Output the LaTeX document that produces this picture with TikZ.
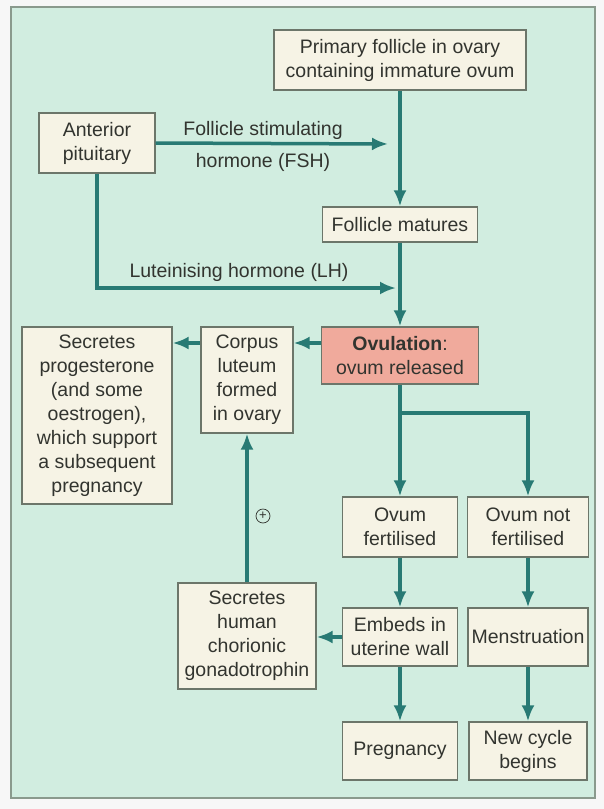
\documentclass[tikz,border=0pt]{standalone}
\usepackage{fontspec}
\setmainfont{Liberation Sans}
\usetikzlibrary{arrows.meta}

\definecolor{munt}{RGB}{209,237,224}
\definecolor{room}{RGB}{246,243,229}
\definecolor{rand}{RGB}{108,118,106}
\definecolor{zeegroen}{RGB}{40,122,116}
\definecolor{zalm}{RGB}{240,170,156}
\definecolor{inkt}{RGB}{50,52,47}

\begin{document}
\begin{tikzpicture}[x=1pt,y=-1pt,>={Latex[length=16pt,width=13pt]}]

% --- Stijlen ---
\tikzset{
    vak/.style={
        draw=rand,
        fill=room,
        line width=1.3pt,
        text=inkt,
        font=\fontsize{19.5}{24}\selectfont,
        align=center,
        inner sep=2pt
    },
    pijl/.style={
        ->,
        draw=zeegroen,
        line width=3.5pt
    },
    bijschrift/.style={
        text=inkt,
        font=\fontsize{19.5}{24}\selectfont,
        inner sep=0pt
    }
}

% --- Achtergrond en kader ---
\fill[white!94!gray] (0,0) rectangle (604,809);
\draw[fill=munt, draw=rand!70!munt, line width=2pt] (11,7) rectangle (595,798);

% --- Vakken ---

% Bovenste rij
\node[vak, minimum width=252pt, minimum height=60pt] (prim) at (400,60)
    {Primary follicle in ovary\\containing immature ovum};
\node[vak, minimum width=116pt, minimum height=60pt] (ant) at (97,143)
    {Anterior\\pituitary};
\node[vak, minimum width=155pt, minimum height=35pt] (mat) at (400,224.5)
    {Follicle matures};

% Ovulatie en corpus luteum
\node[vak, fill=zalm, minimum width=157pt, minimum height=57pt] (ovul) at (400,355.5)
    {\textbf{Ovulation}:\\ovum released};
\node[vak, minimum width=92pt, minimum height=106pt] (corp) at (247,380)
    {Corpus\\luteum\\formed\\in ovary};
\node[vak, minimum width=150pt, minimum height=177pt] (prog) at (97,415.5)
    {Secretes\\progesterone\\(and some\\oestrogen),\\which support\\a subsequent\\pregnancy};

% Bevrucht of niet
\node[vak, minimum width=115pt, minimum height=60pt] (fert) at (400,527)
    {Ovum\\fertilised};
\node[vak, minimum width=121pt, minimum height=60pt] (notf) at (528,527)
    {Ovum not\\fertilised};

% Onderste rijen
\node[vak, minimum width=138pt, minimum height=106pt] (hcg) at (247,636)
    {Secretes\\human\\chorionic\\gonadotrophin};
\node[vak, minimum width=115pt, minimum height=58pt] (emb) at (400,637)
    {Embeds in\\uterine wall};
\node[vak, minimum width=120pt, minimum height=58pt] (mens) at (528,637)
    {Menstruation};
\node[vak, minimum width=115pt, minimum height=58pt] (preg) at (400,751)
    {Pregnancy};
\node[vak, minimum width=118pt, minimum height=58pt] (newc) at (528,751)
    {New cycle\\begins};

% --- Hulppunten ---
\coordinate (fshpunt) at (388,144);
\coordinate (lhpunt) at (396,288);
\coordinate (rij) at (0,343);
\coordinate (splitsing) at (400,413);

% --- Bijschriften ---
\node[bijschrift] (fshboven) at (263,130) {Follicle stimulating};
\node[bijschrift] (fshonder) at (263,162) {hormone (FSH)};
\node[bijschrift] (lhtekst) at (239,272) {Luteinising hormone (LH)};
\node[circle, draw=inkt, line width=0.7pt, inner sep=0pt, minimum size=14pt,
      text=inkt, font=\fontsize{13}{13}\selectfont] (plus) at (263,516) {+};

% --- Pijlen ---

% Hypofyse
\draw[pijl] (ant.east) -- (fshpunt);
\draw[pijl] (ant.south) |- (lhpunt);

% Hoofdlijn
\draw[pijl] (prim) -- (mat);
\draw[pijl] (mat) -- (ovul);
\draw[pijl] (ovul.west |- rij) -- (corp.east |- rij);
\draw[pijl] (corp.west |- rij) -- (prog.east |- rij);

% Splitsing na ovulatie
\draw[pijl] (ovul) -- (fert);
\draw[pijl] (splitsing) -| (notf.north);

% Linkertak
\draw[pijl] (fert) -- (emb);
\draw[pijl] (emb) -- (preg);
\draw[pijl] (emb.west) -- (hcg.east |- emb.west);
\draw[pijl] (hcg) -- (corp);

% Rechtertak
\draw[pijl] (notf) -- (mens);
\draw[pijl] (mens) -- (newc);

\end{tikzpicture}
\end{document}
